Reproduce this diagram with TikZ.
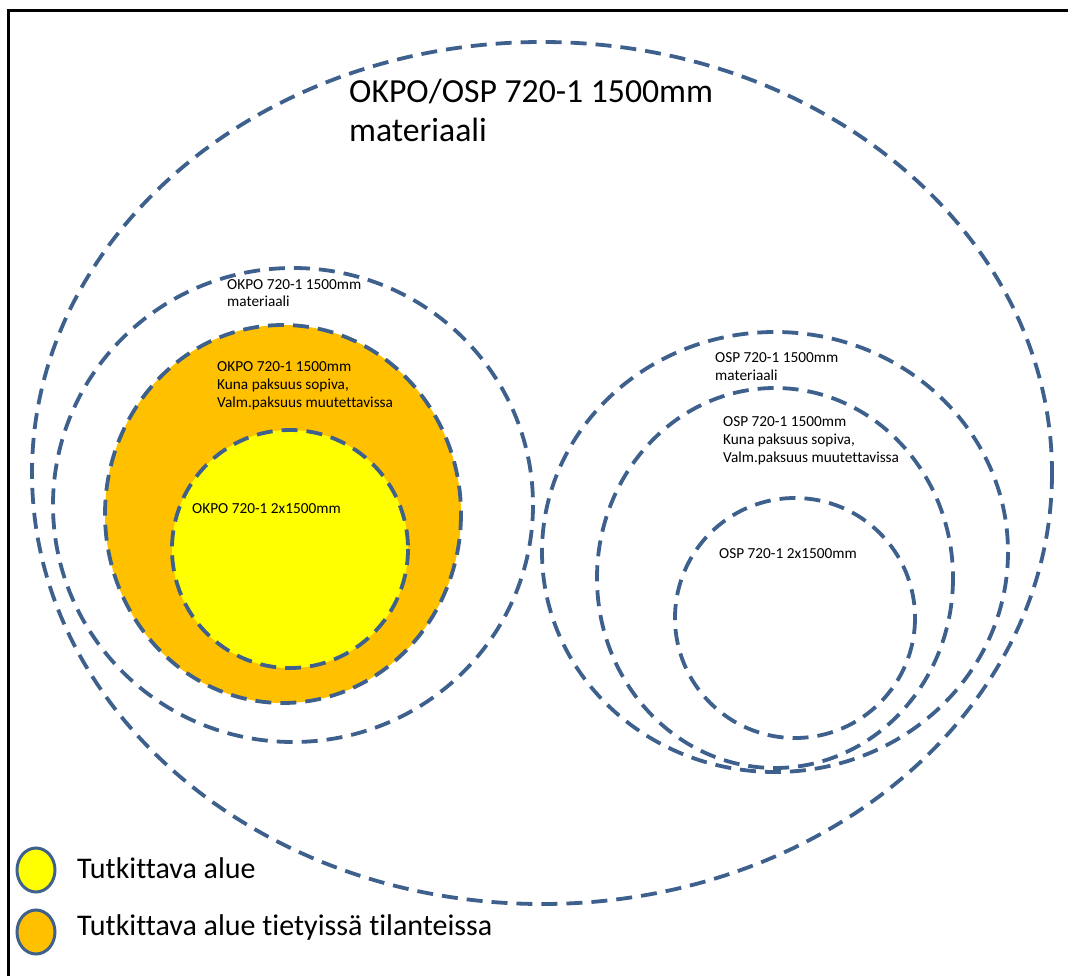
\documentclass[tikz,border=0pt]{standalone}
\usepackage{fontspec}
\setmainfont{Carlito}[Ligatures=NoCommon]
\begin{document}
\definecolor{ringblue}{RGB}{62,96,140}
\definecolor{zoneorange}{RGB}{255,192,0}
\definecolor{zoneyellow}{RGB}{255,255,0}
% multi-line labels are anchored at the baseline of their last line
\begin{tikzpicture}[x=1pt,y=-1pt,
  ring/.style={draw=ringblue,line width=3.8pt,dash pattern=on 16pt off 9pt},
  keydot/.style={draw=ringblue,line width=3pt},
  smalltxt/.style={anchor=base west,inner sep=0pt,align=left,
    font=\fontsize{15.3}{17.7}\selectfont},
  bigtxt/.style={anchor=base west,inner sep=0pt,align=left,
    font=\fontsize{33.7}{39}\selectfont},
  keytxt/.style={anchor=base west,inner sep=0pt,
    font=\fontsize{30}{36}\selectfont}]
\useasboundingbox (0,0) rectangle (1068,976);

% frame
\draw[line width=3pt] (8,990) -- (8,11) -- (1080,11);

% outer set
\draw[ring] (542,473) ellipse [x radius=510,y radius=431];

% OKPO group
\draw[ring] (293,505) ellipse [x radius=240,y radius=237];
\fill[zoneorange] (283,514) ellipse [x radius=178,y radius=189];
\draw[ring] (283,514) ellipse [x radius=178,y radius=189];
\fill[zoneyellow] (290,549) ellipse [x radius=118,y radius=119];
\draw[ring] (290,549) ellipse [x radius=118,y radius=119];

% OSP group
\draw[ring] (775,552) ellipse [x radius=233,y radius=220];
\draw[ring] (775,578) ellipse [x radius=178,y radius=190];
\draw[ring] (795,618) ellipse [x radius=120,y radius=120];

% labels
\node[bigtxt] (tall) at (349,142) {OKPO/OSP 720-1 1500mm\\materiaali};
\node[smalltxt] (tokpo) at (227,307) {OKPO 720-1 1500mm\\materiaali};
\node[smalltxt] (tokpok) at (217,407) {OKPO 720-1 1500mm\\Kuna paksuus sopiva,\\Valm.paksuus muutettavissa};
\node[smalltxt] (tokpo2) at (192,513) {OKPO 720-1 2x1500mm};
\node[smalltxt] (tosp) at (715,380) {OSP 720-1 1500mm\\materiaali};
\node[smalltxt] (tospk) at (723,462) {OSP 720-1 1500mm\\Kuna paksuus sopiva,\\Valm.paksuus muutettavissa};
\node[smalltxt] (tosp2) at (719,558) {OSP 720-1 2x1500mm};

% legend
\draw[keydot,fill=zoneyellow] (36,870) ellipse [x radius=19,y radius=22];
\draw[keydot,fill=zoneorange] (36,932) ellipse [x radius=19,y radius=22];
\node[keytxt] (k1) at (77,878) {Tutkittava alue};
\node[keytxt] (k2) at (77,935) {Tutkittava alue tietyissä tilanteissa};
\end{tikzpicture}
\end{document}
